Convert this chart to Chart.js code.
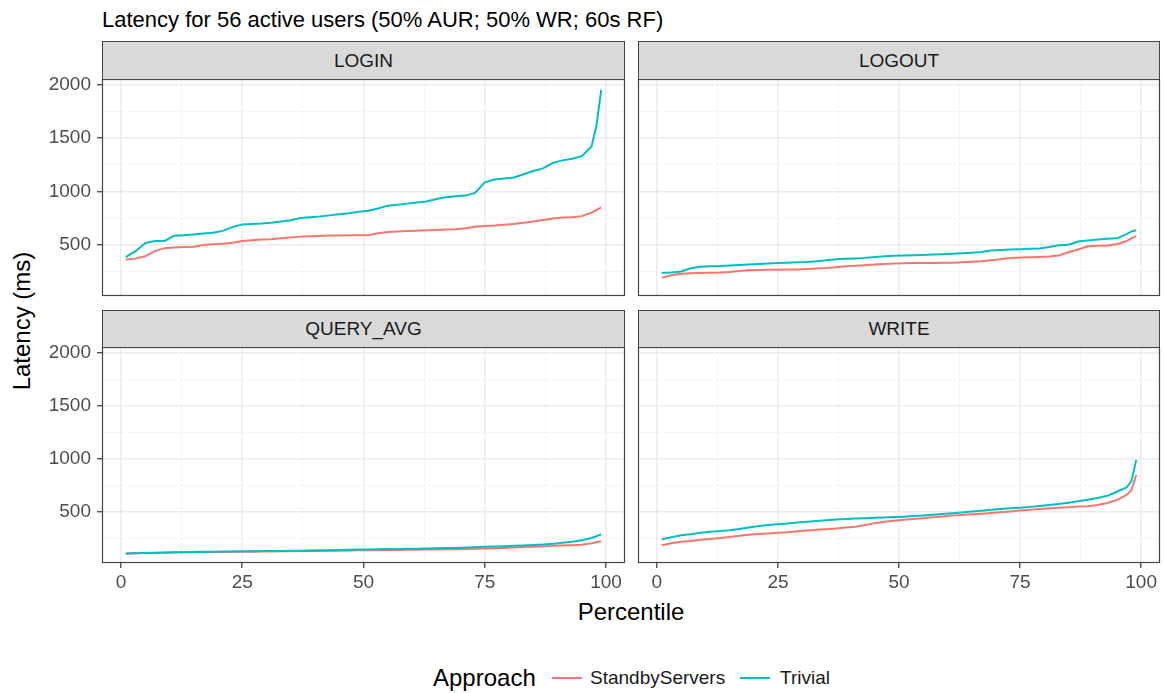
<!DOCTYPE html>
<html lang="en">
<head>
  <meta charset="UTF-8">
  <title>Latency for 56 active users</title>
  <style>
    body {
      margin: 0;
      background: #ffffff;
      font-family: 'Liberation Sans', Arial, sans-serif;
    }
    #page {
      position: relative;
      width: 1164px;
      height: 693px;
      overflow: hidden;
    }
    .abs { position: absolute; white-space: nowrap; }
    .strip {
      position: absolute;
      box-sizing: border-box;
      background: #d9d9d9;
      border: 1px solid #444;
      color: #1a1a1a;
      font-size: 19px;
      display: flex;
      align-items: center;
      justify-content: center;
    }
    .panel { position: absolute; }
    .key { position: absolute; height: 2px; width: 30px; }
  </style>
</head>
<body>
  <div id="page">
    <div class="abs" style="left:102px; top:7px; font-size:22px; color:#000;">Latency for 56 active users (50% AUR; 50% WR; 60s RF)</div>
    <div class="abs" style="left:22px; top:321px; font-size:24px; color:#000; transform:translate(-50%,-50%) rotate(-90deg);">Latency (ms)</div>
    <div class="abs" style="left:631px; top:612px; font-size:24px; color:#000; transform:translate(-50%,-50%);">Percentile</div>

    <div class="abs" style="left:433px; top:664px; font-size:24px; color:#000;">Approach</div>
    <div class="key" style="left:552px; top:677px; background:#F8766D;"></div>
    <div class="abs" style="left:590px; top:667px; font-size:19px; color:#1a1a1a;">StandbyServers</div>
    <div class="key" style="left:740px; top:677px; background:#00BFC4;"></div>
    <div class="abs" style="left:780px; top:667px; font-size:19px; color:#1a1a1a;">Trivial</div>
  </div>

  <script src="https://cdn.jsdelivr.net/npm/chart.js"></script>
  <script>
    const percentiles = [1,3,5,7,9,11,13,15,17,19,21,23,25,27,29,31,33,35,37,39,41,43,45,47,49,51,53,55,57,59,61,63,65,67,69,71,73,75,77,79,81,83,85,87,89,91,93,95,97,98,99];

    const loginStandby = [362,370,392,440,468,475,478,482,498,505, 510,518,535,542,548,552,560,568,576,580, 583,586,587,588,588,590,608,620,625,628, 632,636,638,642,645,655,668,675,680,688, 695,705,718,732,745,755,757,768,800,825,850];
    const loginTrivial = [385,440,515,534,536,585,590,595,605,612, 630,665,690,695,698,705,718,730,750,758, 765,775,785,795,808,818,840,866,875,885, 895,905,928,945,955,960,985,1085,1110,1120, 1130,1160,1190,1215,1265,1290,1305,1330,1420,1610,1950];

    const logoutStandby = [190,215,228,233,236,238,240,245,255,262, 264,265,266,267,268,272,278,282,290,298, 303,308,314,320,324,326,328,329,330,331, 332,336,340,345,355,365,376,380,383,386, 390,400,430,455,485,490,492,505,535,560,580];
    const logoutTrivial = [236,240,250,280,293,298,300,305,310,315, 320,325,330,332,336,339,345,355,363,368, 372,377,385,393,397,400,402,405,408,412, 415,420,425,432,445,450,455,458,462,465, 478,495,500,530,540,548,555,560,600,625,635];

    const queryStandby = [110,112,114,115,117,118,120,121,122,123, 124,125,126,127,128,129,130,131,132,133, 134,135,136,137,139,140,141,142,143,144, 145,146,147,149,150,152,154,156,159,162, 166,170,174,178,182,185,188,192,205,215,225];
    const queryTrivial = [110,112,114,116,118,120,122,124,126,127, 128,129,130,131,132,133,134,135,136,138, 139,140,142,144,146,148,150,151,152,154, 155,156,158,160,162,165,168,172,175,178, 182,185,189,193,200,210,220,235,255,272,290];

    const writeStandby = [187,205,220,228,238,246,255,265,277,285, 292,298,304,310,318,325,332,338,344,355, 362,378,395,408,418,426,435,442,450,458, 466,472,478,484,490,497,505,513,520,528, 535,540,545,552,555,565,585,612,660,705,850];
    const writeTrivial = [243,262,280,290,305,315,320,328,340,355, 368,378,385,392,400,408,415,422,430,435, 438,442,445,448,452,456,462,468,474,480, 487,496,505,512,520,527,535,540,548,556, 565,575,587,600,615,632,652,690,730,790,990];

    const panelNames = ["LOGIN", "LOGOUT", "QUERY_AVG", "WRITE"];
    const standbySeries = [loginStandby, logoutStandby, queryStandby, writeStandby];
    const trivialSeries = [loginTrivial, logoutTrivial, queryTrivial, writeTrivial];

    const xTicks = [0, 12.5, 25, 37.5, 50, 62.5, 75, 87.5, 100];
    const xLabels = ["0", "", "25", "", "50", "", "75", "", "100"];
    const yTicks = [250, 500, 750, 1000, 1250, 1500, 1750, 2000];
    const yLabels = ["", "500", "", "1000", "", "1500", "", "2000"];

    // panel geometry (px on the page)
    const cols = [{ left: 102, right: 625 }, { left: 638, right: 1160 }];
    const rows = [{ stripTop: 41, top: 79, bottom: 296 }, { stripTop: 310, top: 347, bottom: 563 }];
    const yAxisW = 102;
    const xAxisH = 40;

    const panelBorder = {
      id: 'panelBorder',
      afterDraw(chart) {
        const a = chart.chartArea, ctx = chart.ctx;
        ctx.save();
        ctx.strokeStyle = '#444';
        ctx.lineWidth = 1.2;
        ctx.strokeRect(a.left + 0.5, a.top + 0.5, a.right - a.left - 1, a.bottom - a.top - 1);
        ctx.restore();
      }
    };

    // keep tick labels from pushing the plot area around
    function noPad(s) {
      s.paddingLeft = 0; s.paddingRight = 0; s.paddingTop = 0; s.paddingBottom = 0;
    }

    const page = document.getElementById('page');

    panelNames.forEach((name, i) => {
      const r = Math.floor(i / 2), c = i % 2;
      const col = cols[c], row = rows[r];
      const showY = c === 0, showX = r === 1;

      const strip = document.createElement('div');
      strip.className = 'strip';
      strip.style.left = col.left + 'px';
      strip.style.top = row.stripTop + 'px';
      strip.style.width = (col.right - col.left) + 'px';
      strip.style.height = (row.top - row.stripTop + 1) + 'px';
      strip.textContent = name;

      const box = document.createElement('div');
      box.className = 'panel';
      const padL = showY ? 0 : 2;
      const left = showY ? col.left - yAxisW : col.left - 2;
      box.style.left = left + 'px';
      box.style.top = (row.top - 2) + 'px';
      box.style.width = (col.right + 2 - left) + 'px';
      box.style.height = (row.bottom - row.top + 2 + (showX ? xAxisH : 2)) + 'px';
      const canvas = document.createElement('canvas');
      box.appendChild(canvas);
      page.appendChild(box);
      page.appendChild(strip);

      new Chart(canvas, {
        type: 'line',
        data: {
          datasets: [
            {
              label: 'StandbyServers',
              data: percentiles.map((p, k) => ({ x: p, y: standbySeries[i][k] })),
              borderColor: '#F8766D',
              borderWidth: 2,
              pointRadius: 0,
              order: 1
            },
            {
              label: 'Trivial',
              data: percentiles.map((p, k) => ({ x: p, y: trivialSeries[i][k] })),
              borderColor: '#00BFC4',
              borderWidth: 2,
              pointRadius: 0,
              order: 0
            }
          ]
        },
        options: {
          animation: false,
          responsive: true,
          maintainAspectRatio: false,
          devicePixelRatio: 1,
          layout: { padding: { left: padL, right: 2, top: 2, bottom: showX ? 0 : 2 } },
          plugins: { legend: { display: false }, tooltip: { enabled: false } },
          scales: {
            x: {
              type: 'linear',
              min: -3.9,
              max: 103.9,
              afterBuildTicks: s => { s.ticks = xTicks.map(v => ({ value: v })); },
              afterFit: s => { s.height = showX ? xAxisH : 0; noPad(s); },
              border: { display: false },
              grid: {
                color: ctx => ctx.tick && ctx.tick.value % 25 === 0 ? '#ebebeb' : '#f3f3f3',
                lineWidth: ctx => ctx.tick && ctx.tick.value % 25 === 0 ? 1.5 : 0.8,
                drawTicks: showX,
                tickLength: 5,
                tickWidth: 1.2,
                tickColor: ctx => ctx.tick && ctx.tick.value % 25 === 0 ? '#333' : 'rgba(0,0,0,0)'
              },
              ticks: {
                display: showX,
                autoSkip: false,
                maxRotation: 0,
                padding: 3,
                color: '#4d4d4d',
                font: { family: "'Liberation Sans', Arial, sans-serif", size: 19 },
                callback: (v, k) => xLabels[k]
              }
            },
            y: {
              type: 'linear',
              min: 20,
              max: 2052,
              afterBuildTicks: s => { s.ticks = yTicks.map(v => ({ value: v })); },
              afterFit: s => { s.width = showY ? yAxisW : 0; noPad(s); },
              border: { display: false },
              grid: {
                color: ctx => ctx.tick && ctx.tick.value % 500 === 0 ? '#ebebeb' : '#f3f3f3',
                lineWidth: ctx => ctx.tick && ctx.tick.value % 500 === 0 ? 1.5 : 0.8,
                drawTicks: showY,
                tickLength: 5,
                tickWidth: 1.2,
                tickColor: ctx => ctx.tick && ctx.tick.value % 500 === 0 ? '#333' : 'rgba(0,0,0,0)'
              },
              ticks: {
                display: showY,
                padding: 6,
                color: '#4d4d4d',
                font: { family: "'Liberation Sans', Arial, sans-serif", size: 19 },
                callback: (v, k) => yLabels[k]
              }
            }
          }
        },
        plugins: [panelBorder]
      });
    });
  </script>
</body>
</html>
